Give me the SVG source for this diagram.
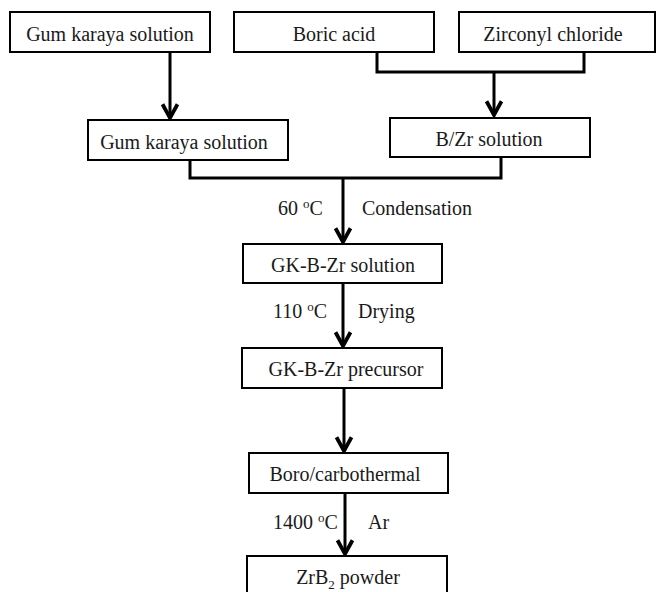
<svg xmlns="http://www.w3.org/2000/svg" width="657" height="592" viewBox="0 0 657 592">
<style>
.box{fill:#fff;stroke:#000;stroke-width:2}
.t{font-family:"Liberation Serif","Times New Roman",serif;font-size:20px;fill:#1a1a1a}
.c{text-anchor:middle}
.ln{fill:none;stroke:#000;stroke-width:3}
</style>
<defs>
<marker id="arr" markerUnits="userSpaceOnUse" markerWidth="20" markerHeight="20" viewBox="-14 -8 16 16" refX="0" refY="0" orient="auto">
<path d="M-11,-6 L0,0 L-11,6" fill="none" stroke="#000" stroke-width="3" stroke-linejoin="miter"/>
</marker>
</defs>
<rect width="657" height="592" fill="#fff"/>
<g id="connectors">
<path class="ln" d="M170,52 V118" marker-end="url(#arr)"/>
<path class="ln" d="M377,52 V72 H584 V52"/>
<path class="ln" d="M494,72 V115" marker-end="url(#arr)"/>
<path class="ln" d="M190,160 V178 H501 V157"/>
<path class="ln" d="M343,178 V242" marker-end="url(#arr)"/>
<path class="ln" d="M343,283 V346" marker-end="url(#arr)"/>
<path class="ln" d="M344,388 V451" marker-end="url(#arr)"/>
<path class="ln" d="M345,493 V554" marker-end="url(#arr)"/>
</g>
<g id="labels">
<text class="t" x="278" y="215">60 <tspan font-size="13" dy="-7">o</tspan><tspan dy="7">C</tspan></text>
<text class="t" x="362" y="215">Condensation</text>
<text class="t" x="273" y="318">110 <tspan font-size="13" dy="-7">o</tspan><tspan dy="7">C</tspan></text>
<text class="t" x="358" y="318">Drying</text>
<text class="t" x="273" y="529">1400 <tspan font-size="13" dy="-7">o</tspan><tspan dy="7">C</tspan></text>
<text class="t" x="368" y="529">Ar</text>
</g>
<g id="gum1"><rect class="box" x="10" y="12" width="200" height="40"/><text class="t c" x="110" y="41">Gum karaya solution</text></g>
<g id="boric"><rect class="box" x="234" y="12" width="200" height="40"/><text class="t c" x="334" y="41">Boric acid</text></g>
<g id="zirconyl"><rect class="box" x="459" y="12" width="196" height="40"/><text class="t c" x="553" y="41">Zirconyl chloride</text></g>
<g id="gum2"><rect class="box" x="88" y="120" width="200" height="40"/><text class="t c" x="184" y="149">Gum karaya solution</text></g>
<g id="bzr"><rect class="box" x="390" y="118" width="200" height="39"/><text class="t c" x="489" y="146">B/Zr solution</text></g>
<g id="gkbzrsol"><rect class="box" x="243" y="244" width="199" height="39"/><text class="t c" x="343" y="272">GK-B-Zr solution</text></g>
<g id="gkbzrpre"><rect class="box" x="242" y="348" width="200" height="40"/><text class="t c" x="346" y="376">GK-B-Zr precursor</text></g>
<g id="boro"><rect class="box" x="249" y="453" width="199" height="40"/><text class="t c" x="345" y="481">Boro/carbothermal</text></g>
<g id="zrb2"><rect class="box" x="247" y="556" width="200" height="42"/><text class="t c" x="348" y="584">ZrB<tspan font-size="13" dy="5">2</tspan><tspan dy="-5"> powder</tspan></text></g>
</svg>
